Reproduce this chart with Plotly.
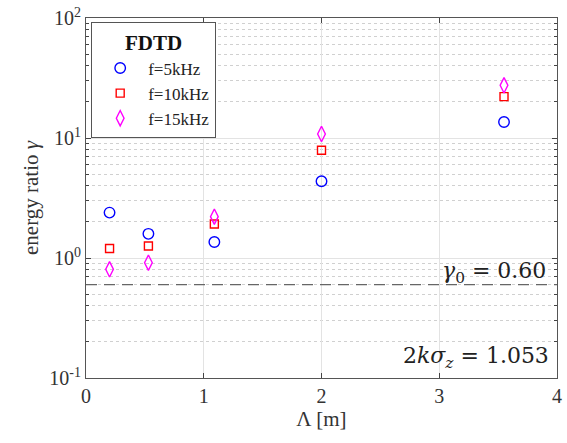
import plotly.graph_objects as go

lam = [0.2, 0.53, 1.09, 2.0, 3.55]
f5 = [2.39, 1.59, 1.36, 4.36, 13.6]
f10 = [1.2, 1.26, 1.92, 7.9, 22.1]
f15 = [0.805, 0.914, 2.21, 10.8, 27.5]
gamma0 = 0.60
names = ["f=5kHz", "f=10kHz", "f=15kHz"]
ytickvals = [0.1, 1, 10, 100]
yticktext = ["10<sup>-1</sup>", "10<sup>0</sup>", "10<sup>1</sup>", "10<sup>2</sup>"]

FONT = "Liberation Serif, Times New Roman, serif"
minor_vals = [m * 10.0 ** e for e in (-1, 0, 1) for m in range(2, 10)]

fig = go.Figure()
fig.add_trace(go.Scatter(x=lam, y=f5, mode="markers", name=names[0],
                         marker=dict(symbol="circle-open", size=10.5, color="#0000FF", line=dict(width=1.4))))
fig.add_trace(go.Scatter(x=lam, y=f10, mode="markers", name=names[1],
                         marker=dict(symbol="square-open", size=8, color="#FF0000", line=dict(width=1.4))))
fig.add_trace(go.Scatter(x=lam, y=f15, mode="markers", name=names[2],
                         marker=dict(symbol="diamond-tall-open", size=11, color="#FF00FF", line=dict(width=1.4))))

fig.add_shape(type="line", xref="paper", x0=0, x1=1, yref="y", y0=gamma0, y1=gamma0,
              line=dict(color="#666666", width=1.3, dash="11px,7px"))

fig.add_annotation(xref="paper", yref="y", x=0.98, y=-0.12, text="<i>γ</i><sub>0</sub> = 0.60",
                   showarrow=False, xanchor="right", yanchor="middle",
                   font=dict(family="DejaVu Serif", size=22, color="#222222"))
fig.add_annotation(xref="paper", yref="paper", x=0.987, y=0.058, text="2<i>kσ</i><sub><i>z</i></sub> = 1.053",
                   showarrow=False, xanchor="right", yanchor="middle",
                   font=dict(family="DejaVu Serif", size=22, color="#222222"))

# legend title separator
fig.add_shape(type="line", xref="paper", yref="paper", x0=0.0106, x1=0.27, y0=0.908, y1=0.908,
              line=dict(color="#555555", width=1.2))

fig.update_layout(
    width=567, height=443,
    margin=dict(l=86, r=10, t=18, b=65),
    plot_bgcolor="white", paper_bgcolor="white",
    font=dict(family=FONT, size=20, color="#333333"),
    showlegend=True,
    legend=dict(x=0.0106, y=0.989, xanchor="left", yanchor="top",
                bgcolor="white", bordercolor="#555555", borderwidth=1.2,
                font=dict(family=FONT, size=17, color="#222222"),
                title=dict(text="<b>FDTD</b>", side="top center", font=dict(family=FONT, size=21, color="#111111")),
                itemwidth=46, tracegroupgap=0),
    xaxis=dict(range=[0, 4], dtick=1, ticks="inside", ticklen=5, tickcolor="#444444",
               showline=True, linecolor="#555555", linewidth=1, mirror="allticks", automargin=False,
               showgrid=True, gridcolor="#e3e3e3", gridwidth=1, zeroline=False,
               title=dict(text="Λ [m]", font=dict(family=FONT, size=21, color="#333333"), standoff=2),
               tickfont=dict(family=FONT, size=20, color="#333333")),
    yaxis=dict(type="log", range=[-1, 2], tickvals=ytickvals, ticktext=yticktext,
               ticks="inside", ticklen=5, tickcolor="#444444", automargin=False,
               showline=True, linecolor="#555555", linewidth=1, mirror="allticks",
               showgrid=True, gridcolor="#e3e3e3", gridwidth=1, zeroline=False,
               minor=dict(tickvals=minor_vals, ticks="inside", ticklen=3, tickcolor="#444444", showgrid=True,
                          gridcolor="#d0d0d0", griddash="dot", gridwidth=1),
               title=dict(text="energy ratio <i>γ</i>", font=dict(family=FONT, size=21, color="#333333"), standoff=4),
               tickfont=dict(family=FONT, size=20, color="#333333")),
)
fig.write_html("out.html", config={"displayModeBar": False},
               post_script="document.body.style.margin='0px';")
